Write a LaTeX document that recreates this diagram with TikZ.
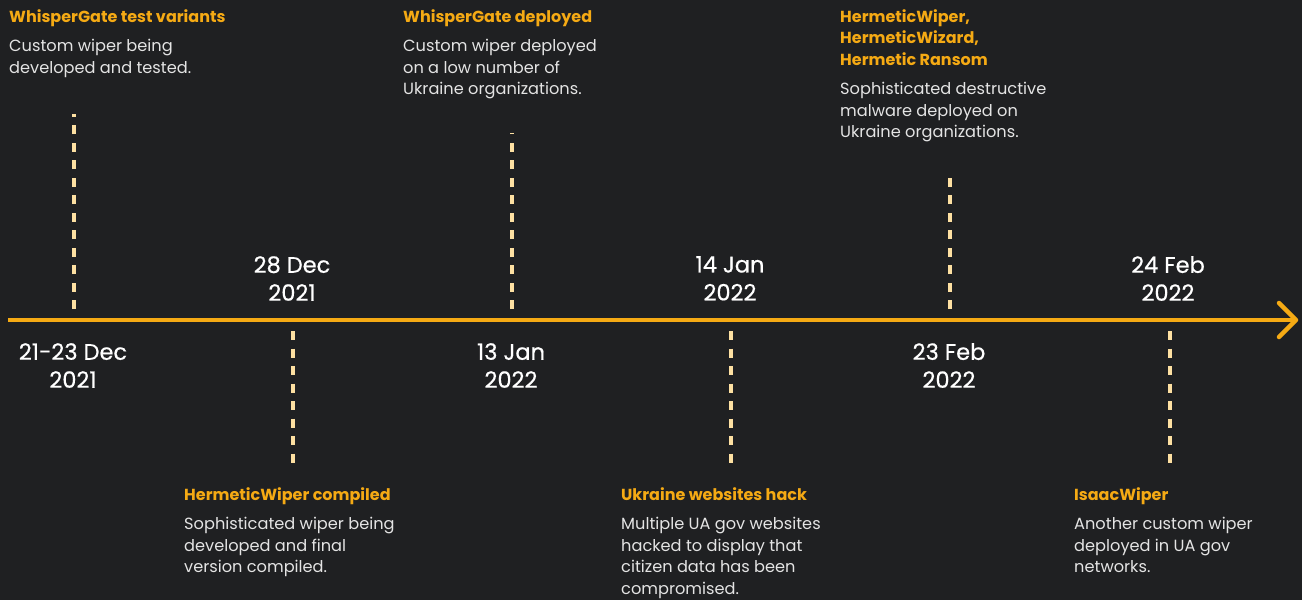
\documentclass[tikz,border=0pt]{standalone}
\usepackage{fontspec}
\setmainfont{Poppins}
\newfontfamily\datefont{Poppins}[FakeBold=0.6]
\usetikzlibrary{positioning}
\definecolor{bgdark}{HTML}{1F2022}
\definecolor{accent}{HTML}{F5AA14}
\definecolor{tickcol}{HTML}{FDE0A2}
\definecolor{desccol}{HTML}{E4E4E4}
\tikzset{
    datetext/.style = {text = white, align = center, anchor = north, inner sep = 0pt, font = \datefont\fontsize{22.5}{28}\selectfont},
    headtext/.style = {text = accent, align = left, anchor = north west, inner sep = 0pt, font = \bfseries\fontsize{16}{21.5}\selectfont},
    desctext/.style = {text = desccol, align = left, anchor = north west, inner sep = 0pt, font = \fontsize{16.2}{21.5}\selectfont},
    tickline/.style = {tickcol, line width = 3.5pt, dash pattern = on 9pt off 8.5pt}
}

\begin{document}
\begin{tikzpicture}[x = 1pt, y = -1pt]
            \fill[bgdark](0, 0) rectangle (1302, 600);

            \coordinate (line_start) at (8, 320);
            \coordinate (line_end) at (1294, 320);
            \coordinate (tip_up) at (1279, 303);
            \coordinate (tip) at (1296, 320);
            \coordinate (tip_down) at (1279, 337);

            \coordinate (tick_a_top) at (74, 114);
            \coordinate (tick_a_bot) at (74, 309);
            \coordinate (tick_b_top) at (293, 331);
            \coordinate (tick_b_bot) at (293, 465);
            \coordinate (tick_c_top) at (512, 133);
            \coordinate (tick_c_bot) at (512, 309);
            \coordinate (tick_d_top) at (731, 331);
            \coordinate (tick_d_bot) at (731, 465);
            \coordinate (tick_e_top) at (950, 174);
            \coordinate (tick_e_bot) at (950, 309);
            \coordinate (tick_f_top) at (1170, 331);
            \coordinate (tick_f_bot) at (1170, 465);

            \draw[tickline](tick_a_bot) -- (tick_a_top);
            \draw[tickline](tick_b_top) -- (tick_b_bot);
            \draw[tickline](tick_c_bot) -- (tick_c_top);
            \draw[tickline](tick_d_top) -- (tick_d_bot);
            \draw[tickline](tick_e_bot) -- (tick_e_top);
            \draw[tickline](tick_f_top) -- (tick_f_bot);

            \draw[accent, line width = 4.5pt](line_start) -- (line_end);
            \draw[accent, line width = 4.5pt, line cap = round, line join = round](tip_up) -- (tip) -- (tip_down);

            \node[datetext] (date_a) at (73, 343) {21-23 Dec\\2021};
            \node[datetext] (date_b) at (292, 256) {28 Dec\\2021};
            \node[datetext] (date_c) at (511, 343) {13 Jan\\2022};
            \node[datetext] (date_d) at (730, 256) {14 Jan\\2022};
            \node[datetext] (date_e) at (949, 343) {23 Feb\\2022};
            \node[datetext] (date_f) at (1168, 256) {24 Feb\\2022};

            \node[headtext] (head_a) at (9, 9) {WhisperGate test variants};
            \node[desctext] (desc_a) at (9, 39) {Custom wiper being\\developed and tested.};

            \node[headtext] (head_b) at (184, 487) {HermeticWiper compiled};
            \node[desctext] (desc_b) at (184, 517) {Sophisticated wiper being\\developed and final\\version compiled.};

            \node[headtext] (head_c) at (403, 9) {WhisperGate deployed};
            \node[desctext] (desc_c) at (403, 39) {Custom wiper deployed\\on a low number of\\Ukraine organizations.};

            \node[headtext] (head_d) at (621, 487) {Ukraine websites hack};
            \node[desctext] (desc_d) at (621, 517) {Multiple UA gov websites\\hacked to display that\\citizen data has been\\compromised.};

            \node[headtext] (head_e) at (840, 9) {HermeticWiper,\\HermeticWizard,\\Hermetic Ransom};
            \node[desctext] (desc_e) at (840, 82) {Sophisticated destructive\\malware deployed on\\Ukraine organizations.};

            \node[headtext] (head_f) at (1074, 487) {IsaacWiper};
            \node[desctext] (desc_f) at (1074, 517) {Another custom wiper\\deployed in UA gov\\networks.};
        \end{tikzpicture}
\end{document}
